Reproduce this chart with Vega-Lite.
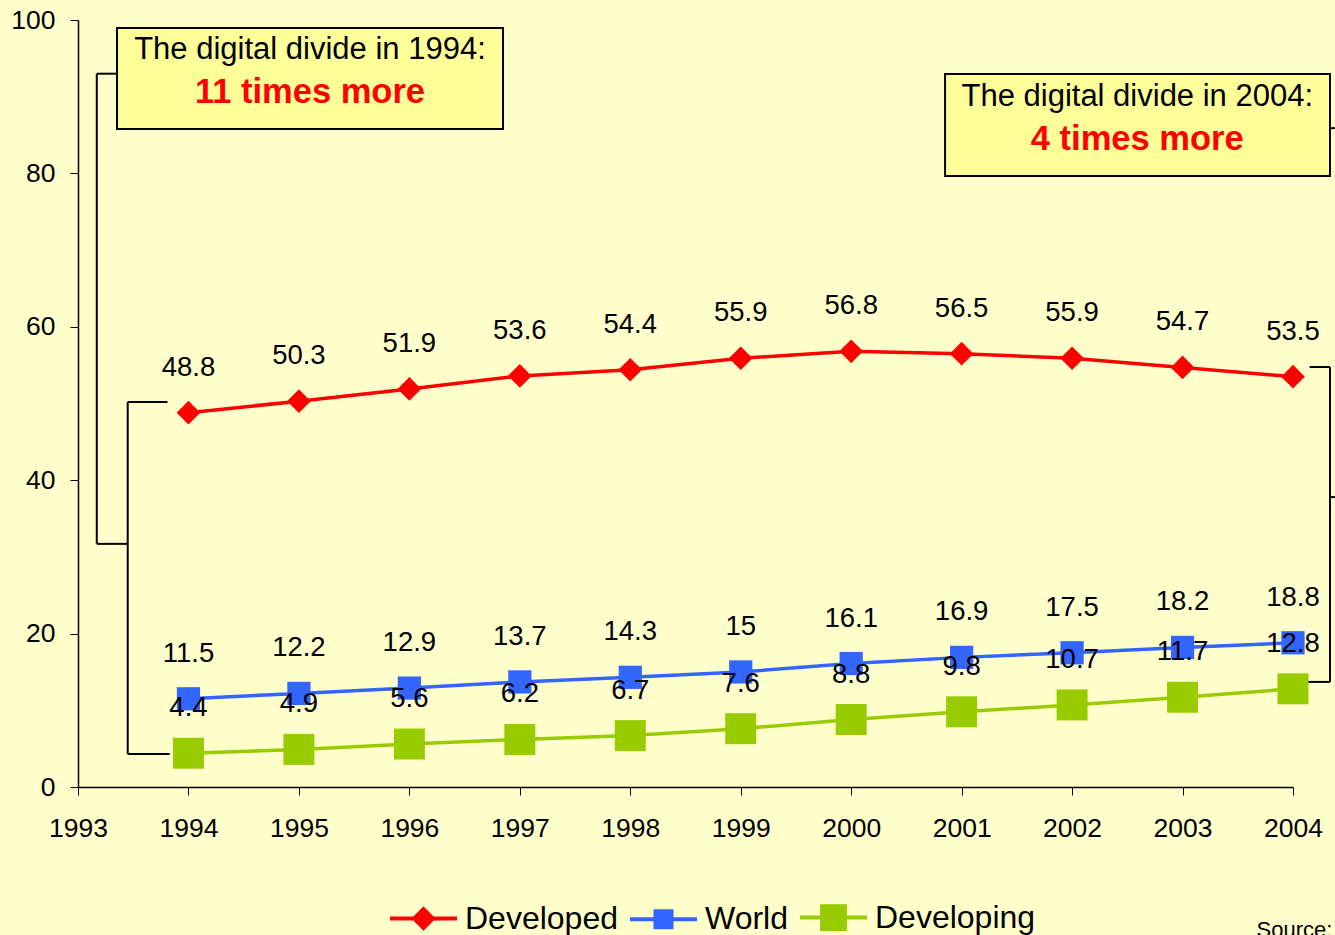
{
  "$schema": "https://vega.github.io/schema/vega-lite/v6.json",
  "width": 1215,
  "height": 767,
  "autosize": {"type": "none"},
  "padding": {"left": 78, "top": 20, "right": 42, "bottom": 148},
  "background": "#FFFFCC",
  "config": {"view": {"stroke": null}, "font": "Liberation Sans"},
  "datasets": {
    "series": [
      {"x": 1994, "series": "Developed", "y": 48.8},
      {"x": 1995, "series": "Developed", "y": 50.3},
      {"x": 1996, "series": "Developed", "y": 51.9},
      {"x": 1997, "series": "Developed", "y": 53.6},
      {"x": 1998, "series": "Developed", "y": 54.4},
      {"x": 1999, "series": "Developed", "y": 55.9},
      {"x": 2000, "series": "Developed", "y": 56.8},
      {"x": 2001, "series": "Developed", "y": 56.5},
      {"x": 2002, "series": "Developed", "y": 55.9},
      {"x": 2003, "series": "Developed", "y": 54.7},
      {"x": 2004, "series": "Developed", "y": 53.5},
      {"x": 1994, "series": "World", "y": 11.5},
      {"x": 1995, "series": "World", "y": 12.2},
      {"x": 1996, "series": "World", "y": 12.9},
      {"x": 1997, "series": "World", "y": 13.7},
      {"x": 1998, "series": "World", "y": 14.3},
      {"x": 1999, "series": "World", "y": 15},
      {"x": 2000, "series": "World", "y": 16.1},
      {"x": 2001, "series": "World", "y": 16.9},
      {"x": 2002, "series": "World", "y": 17.5},
      {"x": 2003, "series": "World", "y": 18.2},
      {"x": 2004, "series": "World", "y": 18.8},
      {"x": 1994, "series": "Developing", "y": 4.4},
      {"x": 1995, "series": "Developing", "y": 4.9},
      {"x": 1996, "series": "Developing", "y": 5.6},
      {"x": 1997, "series": "Developing", "y": 6.2},
      {"x": 1998, "series": "Developing", "y": 6.7},
      {"x": 1999, "series": "Developing", "y": 7.6},
      {"x": 2000, "series": "Developing", "y": 8.8},
      {"x": 2001, "series": "Developing", "y": 9.8},
      {"x": 2002, "series": "Developing", "y": 10.7},
      {"x": 2003, "series": "Developing", "y": 11.7},
      {"x": 2004, "series": "Developing", "y": 12.8}
    ],
    "boxes": [
      {"x": 1993.353, "x2": 1996.848, "y": 98.96, "y2": 85.79},
      {"x": 2000.85, "x2": 2004.335, "y": 92.96, "y2": 79.66}
    ],
    "brackets": [
      {"x": 1993.17, "x2": 1993.17, "y": 93.0, "y2": 31.7},
      {"x": 1993.17, "x2": 1993.353, "y": 93.0, "y2": 93.0},
      {"x": 1993.17, "x2": 1993.45, "y": 31.7, "y2": 31.7},
      {"x": 1993.45, "x2": 1993.45, "y": 50.2, "y2": 4.3},
      {"x": 1993.45, "x2": 1993.81, "y": 50.2, "y2": 50.2},
      {"x": 1993.45, "x2": 1993.83, "y": 4.3, "y2": 4.3},
      {"x": 2004.335, "x2": 2004.335, "y": 54.76, "y2": 13.7},
      {"x": 2004.15, "x2": 2004.335, "y": 54.76, "y2": 54.76},
      {"x": 2004.06, "x2": 2004.335, "y": 13.7, "y2": 13.7},
      {"x": 2004.335, "x2": 2004.42, "y": 37.8, "y2": 37.8},
      {"x": 2004.335, "x2": 2004.42, "y": 85.9, "y2": 85.9}
    ],
    "headlines": [
      {"x": 1995.1, "y": 96.09, "label": "The digital divide in 1994:"},
      {"x": 2002.59, "y": 89.96, "label": "The digital divide in 2004:"}
    ],
    "highlights": [
      {"x": 1995.1, "y": 90.48, "label": "11 times more"},
      {"x": 2002.59, "y": 84.35, "label": "4 times more"}
    ],
    "source": [
      {"x": 2003.67, "y": -19.5, "label": "Source: ITU"}
    ]
  },
  "encoding": {
    "x": {
      "field": "x",
      "type": "quantitative",
      "scale": {"domain": [1993, 2004], "nice": false, "zero": false},
      "axis": {
        "title": null,
        "values": [1993, 1994, 1995, 1996, 1997, 1998, 1999, 2000, 2001, 2002, 2003, 2004],
        "format": "d",
        "grid": false,
        "labelFontSize": 26.5,
        "labelColor": "black",
        "labelFlush": false,
        "labelOverlap": false,
        "labelPadding": 20,
        "tickSize": 8,
        "tickColor": "black",
        "domainColor": "black",
        "domainWidth": 1.5
      }
    },
    "y": {
      "field": "y",
      "type": "quantitative",
      "scale": {"domain": [0, 100], "nice": false},
      "axis": {
        "title": null,
        "values": [0, 20, 40, 60, 80, 100],
        "grid": false,
        "labelFontSize": 26.5,
        "labelColor": "black",
        "labelFlush": false,
        "labelOverlap": false,
        "labelPadding": 15,
        "tickSize": 8,
        "tickColor": "black",
        "domainColor": "black",
        "domainWidth": 1.5
      }
    }
  },
  "layer": [
    {
      "data": {"name": "boxes"},
      "mark": {"type": "rect", "fill": "#FFFF99", "stroke": "black", "strokeWidth": 2},
      "encoding": {
        "x2": {"field": "x2"},
        "y2": {"field": "y2"}
      }
    },
    {
      "data": {"name": "brackets"},
      "mark": {"type": "rule", "stroke": "black", "strokeWidth": 2},
      "encoding": {
        "x2": {"field": "x2"},
        "y2": {"field": "y2"}
      }
    },
    {
      "data": {"name": "series"},
      "mark": {"type": "line", "strokeWidth": 3.5},
      "encoding": {
        "color": {
          "field": "series",
          "type": "nominal",
          "sort": ["Developed", "World", "Developing"],
          "scale": {"domain": ["Developed", "World", "Developing"], "range": ["#FF0000", "#3366FF", "#99CC00"]},
          "legend": {
            "orient": "none",
            "legendX": 310,
            "legendY": 862,
            "direction": "horizontal",
            "columns": 3,
            "title": null,
            "padding": 0,
            "labelFontSize": 32,
            "labelFont": "Liberation Sans",
            "labelColor": "black",
            "labelLimit": 400,
            "labelOffset": 6,
            "columnPadding": 4,
            "symbolSize": 4489,
            "symbolStrokeWidth": 4,
            "encode": {
              "symbols": {
                "update": {
                  "shape": {"signal": "datum.value === 'Developed' ? 'M-1,0L1,0M0,-0.28L0.28,0L0,0.28L-0.28,0Z' : (datum.value === 'World' ? 'M-1,0L1,0M-0.24,-0.24L0.24,-0.24L0.24,0.24L-0.24,0.24Z' : 'M-1,0L1,0M-0.34,-0.34L0.34,-0.34L0.34,0.34L-0.34,0.34Z')"},
                  "size": {"value": 4489},
                  "fill": {"signal": "scale('color', datum.value)"},
                  "stroke": {"signal": "scale('color', datum.value)"},
                  "strokeWidth": {"value": 4},
                  "opacity": {"value": 1},
                  "fillOpacity": {"value": 1},
                  "strokeOpacity": {"value": 1}
                }
              }
            }
          }
        },
        "order": {"field": "x"}
      }
    },
    {
      "data": {"name": "series"},
      "transform": [{"filter": "datum.series === 'Developed'"}],
      "mark": {"type": "point", "filled": true, "opacity": 1, "shape": "diamond", "size": 560},
      "encoding": {
        "color": {"field": "series", "type": "nominal"}
      }
    },
    {
      "data": {"name": "series"},
      "transform": [{"filter": "datum.series === 'World'"}],
      "mark": {"type": "point", "filled": true, "opacity": 1, "shape": "square", "size": 540},
      "encoding": {
        "color": {"field": "series", "type": "nominal"}
      }
    },
    {
      "data": {"name": "series"},
      "transform": [{"filter": "datum.series === 'Developing'"}],
      "mark": {"type": "point", "filled": true, "opacity": 1, "shape": "square", "size": 960},
      "encoding": {
        "color": {"field": "series", "type": "nominal"}
      }
    },
    {
      "data": {"name": "series"},
      "mark": {"type": "text", "dy": -45, "fontSize": 27.5, "color": "black", "font": "Liberation Sans"},
      "encoding": {
        "text": {"field": "y", "type": "quantitative"}
      }
    },
    {
      "data": {"name": "headlines"},
      "mark": {"type": "text", "fontSize": 31, "color": "black", "font": "Liberation Sans", "baseline": "middle"},
      "encoding": {
        "text": {"field": "label"}
      }
    },
    {
      "data": {"name": "highlights"},
      "mark": {"type": "text", "fontSize": 34.5, "fontWeight": "bold", "color": "#FF0000", "font": "Liberation Sans", "baseline": "middle"},
      "encoding": {
        "text": {"field": "label"}
      }
    },
    {
      "data": {"name": "source"},
      "mark": {"type": "text", "fontSize": 22, "color": "black", "font": "Liberation Sans", "align": "left", "baseline": "alphabetic"},
      "encoding": {
        "text": {"field": "label"}
      }
    }
  ]
}
